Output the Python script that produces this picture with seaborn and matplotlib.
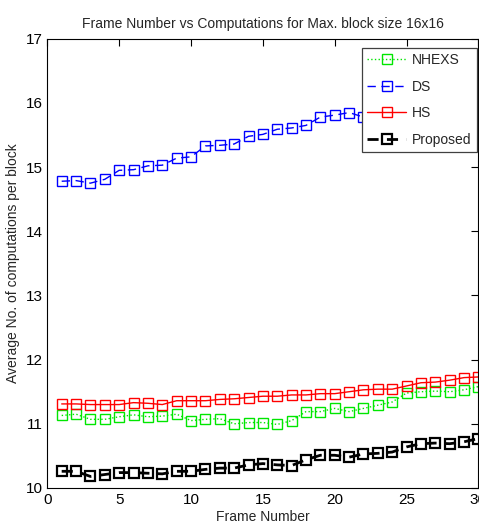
import matplotlib
matplotlib.use("Agg")
import matplotlib.pyplot as plt
import seaborn as sns
import pandas as pd

frames = list(range(1, 31))
nhexs = [11.13, 11.15, 11.07, 11.07, 11.11, 11.14, 11.11, 11.12, 11.15, 11.05,
         11.07, 11.08, 11.00, 11.02, 11.02, 10.99, 11.05, 11.19, 11.19, 11.24,
         11.19, 11.24, 11.29, 11.34, 11.48, 11.50, 11.51, 11.50, 11.53, 11.58]
ds = [14.78, 14.79, 14.75, 14.81, 14.95, 14.96, 15.02, 15.03, 15.14, 15.16,
      15.33, 15.34, 15.36, 15.48, 15.51, 15.59, 15.61, 15.65, 15.78, 15.81,
      15.85, 15.78, 15.86, 15.90, 15.96, 16.00, 16.06, 16.10, 16.16, 16.22]
hs = [11.31, 11.31, 11.30, 11.30, 11.30, 11.33, 11.32, 11.30, 11.36, 11.36,
      11.36, 11.38, 11.39, 11.41, 11.43, 11.43, 11.45, 11.45, 11.47, 11.47,
      11.50, 11.53, 11.54, 11.54, 11.59, 11.64, 11.65, 11.68, 11.72, 11.73]
proposed = [10.26, 10.26, 10.18, 10.21, 10.24, 10.24, 10.23, 10.22, 10.26, 10.26,
            10.29, 10.31, 10.31, 10.36, 10.38, 10.36, 10.35, 10.44, 10.51, 10.51,
            10.48, 10.53, 10.54, 10.56, 10.64, 10.69, 10.70, 10.69, 10.72, 10.77]

series_names = ["NHEXS", "DS", "HS", "Proposed"]
series_values = [nhexs, ds, hs, proposed]

sns.set_style("white")
plt.rcParams['font.family'] = ['Liberation Sans', 'DejaVu Sans']

fig = plt.figure(figsize=(4.79, 5.31), dpi=100)
ax = fig.add_axes([0.0988, 0.081, 0.9, 0.846])

styles = {
    "NHEXS": dict(color=(0, 0.9, 0), ls=":", lw=1.0, mew=1.0),
    "DS": dict(color=(0, 0, 1), ls=(0, (6, 4)), lw=1.0, mew=1.0),
    "HS": dict(color=(1, 0, 0), ls="-", lw=1.0, mew=1.0),
    "Proposed": dict(color=(0, 0, 0), ls=(0, (4, 3)), lw=2.0, mew=1.6),
}

for name, vals in zip(series_names, series_values):
    df = pd.DataFrame({"frame": frames, "val": vals})
    st = styles[name]
    sns.lineplot(data=df, x="frame", y="val", ax=ax, label=name,
                 color=st["color"], linestyle=st["ls"], linewidth=st["lw"],
                 marker="s", markersize=7, markerfacecolor="none",
                 markeredgecolor=st["color"], markeredgewidth=st["mew"])

ax.set_xlim(0, 30)
ax.set_ylim(10, 17)
ax.set_xticks([0, 5, 10, 15, 20, 25, 30])
ax.set_yticks(range(10, 18))
ax.tick_params(direction="in", top=True, right=True, length=5, width=0.8,
               labelsize=11, colors="black")
for s in ax.spines.values():
    s.set_color("black")
    s.set_linewidth(0.8)

ax.set_title("Frame Number vs Computations for Max. block size 16x16",
             fontsize=10, pad=8)
ax.set_xlabel("Frame Number", fontsize=10, labelpad=2)
ax.set_ylabel("Average No. of computations per block", fontsize=10, labelpad=4)

leg = ax.legend(loc="upper right", bbox_to_anchor=(0.996, 0.98), fontsize=10,
                frameon=True, fancybox=False, edgecolor="#404040", framealpha=1,
                handlelength=2.8, handletextpad=0.4, borderaxespad=0.0,
                labelspacing=0.9)
leg.get_frame().set_linewidth(0.9)

fig.savefig("out.png", dpi=100)
